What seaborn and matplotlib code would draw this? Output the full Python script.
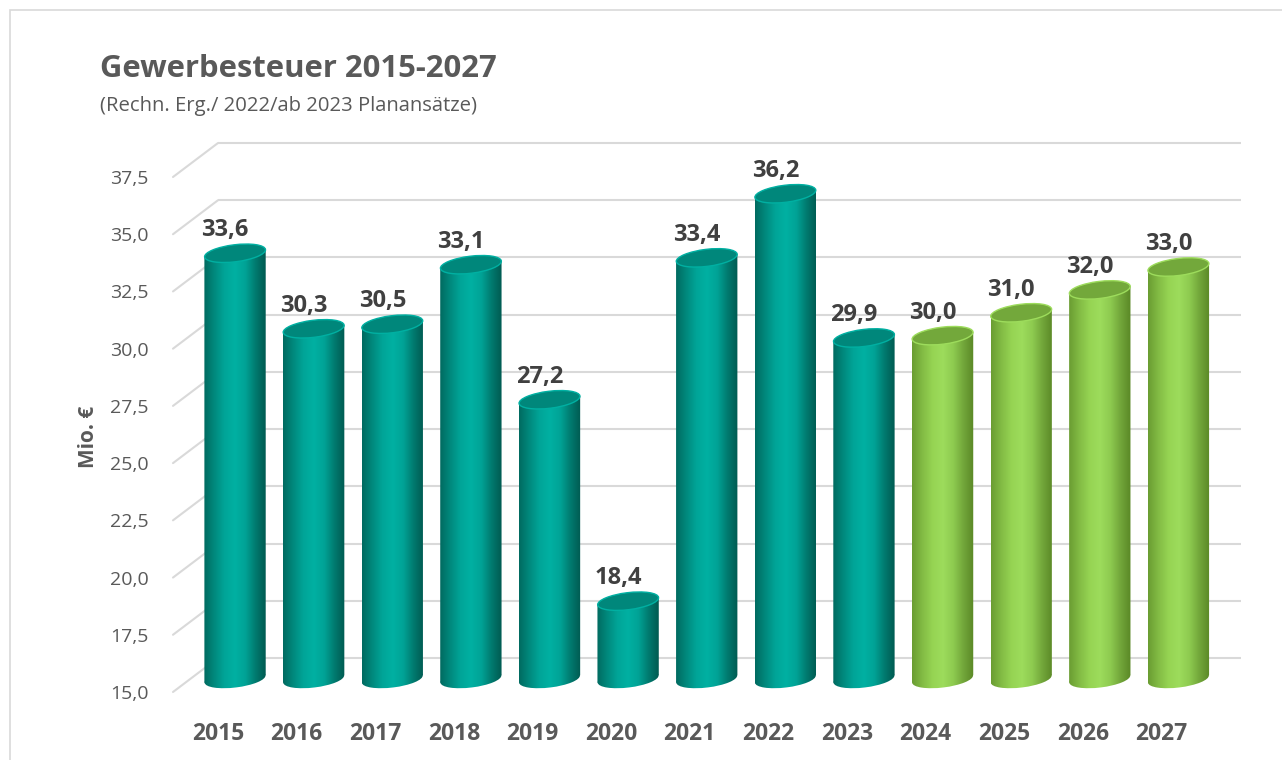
import numpy as np
import pandas as pd
import matplotlib
matplotlib.use("Agg")
import matplotlib.pyplot as plt
import seaborn as sns
from matplotlib.patches import Ellipse, Rectangle, Polygon
from matplotlib.transforms import ScaledTranslation
from matplotlib.colors import LinearSegmentedColormap

# ================= DATA =================
years = ["2015", "2016", "2017", "2018", "2019", "2020", "2021",
         "2022", "2023", "2024", "2025", "2026", "2027"]
values = [33.6, 30.3, 30.5, 33.1, 27.2, 18.4, 33.4, 36.2, 29.9, 30.0, 31.0, 32.0, 33.0]
kind = ["Ergebnis"] * 9 + ["Plan"] * 4
yticks = [15.0, 17.5, 20.0, 22.5, 25.0, 27.5, 30.0, 32.5, 35.0, 37.5]

df = pd.DataFrame({"Jahr": years, "Wert": values, "Art": kind})

# ================= STYLE =================
sns.set_theme(style="white")
plt.rcParams["font.family"] = ["Open Sans", "DejaVu Sans"]
GREY = "#595959"
DARK = "#404040"
GRID = "#d9d9d9"

palette = {"Ergebnis": "#00a99d", "Plan": "#92d050"}
cmaps = {
    "Ergebnis": LinearSegmentedColormap.from_list(
        "teal", ["#006a60", "#00897d", "#00a598", "#00b0a2", "#00a396", "#007a6f", "#005a51"]),
    "Plan": LinearSegmentedColormap.from_list(
        "green", ["#6a9c32", "#82bb44", "#96d453", "#9ddc5c", "#8ecb50", "#72a63a", "#5a8826"]),
}
tops = {"Ergebnis": "#00877b", "Plan": "#73a83b"}

# ================= FIGURE =================
DPI = 100
fig = plt.figure(figsize=(12.82, 7.60), dpi=DPI)

# bar plane (middle depth)
px_unit = 515 / 22.5
px_cat = 78.6
ymin = 14.4
bottom_px = 81 - (15 - ymin) * px_unit
height_px = (37.5 - ymin) * px_unit
ax = fig.add_axes([190 / 1282, bottom_px / 760, 1023 / 1282, height_px / 760])

sns.barplot(data=df, x="Jahr", y="Wert", hue="Art", palette=palette,
            dodge=False, width=0.78, legend=False, ax=ax)
x0, x1 = -0.573, 12.44
ax.set_xlim(x0, x1)
ax.set_ylim(ymin, 37.5)
for s in ax.spines.values():
    s.set_visible(False)
ax.set_xlabel("")
ax.set_ylabel("")

# back wall grid + connectors to front edge
back = ax.transData + ScaledTranslation(28 / DPI, 21 / DPI, fig.dpi_scale_trans)
front = ax.transData + ScaledTranslation(-17 / DPI, -13 / DPI, fig.dpi_scale_trans)
ax.hlines(yticks, x0, x1, colors=GRID, lw=1.5, transform=back, zorder=0, clip_on=False)
for yv in yticks:
    ax.annotate("", xy=(x0, yv), xycoords=back, xytext=(x0, yv), textcoords=front,
                arrowprops=dict(arrowstyle="-", color=GRID, lw=1.5,
                                shrinkA=0, shrinkB=0), zorder=0)

# cylinders (ellipses sized in inches, placed at data points)
ELL_H = 0.17
TILT = 7
grad = np.linspace(0, 1, 256).reshape(1, -1)
for bar, v, k in zip(ax.patches, values, kind):
    xl = bar.get_x()
    w = bar.get_width()
    xc = xl + w / 2
    w_in = w * px_cat / DPI
    dy = (w * px_cat / 2 * np.sin(np.radians(TILT))) / px_unit
    bar.set_y(15)
    bar.set_height(v - 15)
    bar.set_facecolor("none")
    bar.set_edgecolor("none")
    body = Polygon([(xl, 15 - dy), (xl, v - dy), (xl + w, v + dy), (xl + w, 15 + dy)],
                   closed=True, facecolor="none", edgecolor="none")
    ax.add_patch(body)
    im = ax.imshow(grad, cmap=cmaps[k], aspect="auto",
                   extent=[xl, xl + w, 14.4, v + 1], zorder=2)
    im.set_clip_path(body)
    bot = Ellipse((0, 0), w_in, ELL_H, angle=TILT, facecolor="none", edgecolor="none",
                  transform=fig.dpi_scale_trans + ScaledTranslation(xc, 15, ax.transData))
    ax.add_patch(bot)
    im2 = ax.imshow(grad, cmap=cmaps[k], aspect="auto",
                    extent=[xl, xl + w, 14.4, v], zorder=2)
    im2.set_clip_path(bot)
    ax.add_patch(Ellipse((0, 0), w_in, ELL_H, angle=TILT, facecolor=tops[k],
                         edgecolor=cmaps[k](0.5), lw=1.0, zorder=3,
                         transform=fig.dpi_scale_trans + ScaledTranslation(xc, v, ax.transData)))
    ax.annotate(f"{v:.1f}".replace(".", ","), xy=(xc, v), xytext=(-10, 17),
                textcoords="offset pixels", ha="center", va="baseline",
                fontsize=17, fontweight="bold", color=DARK, zorder=4)
ax.set_xlim(x0, x1)
ax.set_ylim(ymin, 37.5)

# ticks on the front edge
ax.set_yticks(yticks)
ax.set_yticklabels([f"{t:.1f}".replace(".", ",") for t in yticks])
ax.tick_params(axis="y", length=0, pad=30, labelsize=14, labelcolor=GREY)
ax.tick_params(axis="x", length=0, pad=21, labelsize=16.5, labelcolor=GREY)
for lab in ax.get_yticklabels():
    lab.set_transform(lab.get_transform() + ScaledTranslation(0, -13 / DPI, fig.dpi_scale_trans))
for lab in ax.get_xticklabels():
    lab.set_fontweight("bold")
    lab.set_transform(lab.get_transform() + ScaledTranslation(-17 / DPI, 0, fig.dpi_scale_trans))

fig.text(88 / 1282, 1 - 437 / 760, "Mio. €", rotation=90, ha="center", va="center",
         fontsize=15, fontweight="bold", color=GREY)

# titles
fig.text(100 / 1282, 1 - 77 / 760, "Gewerbesteuer 2015-2027", ha="left", va="baseline",
         fontsize=22.3, fontweight="bold", color=GREY)
fig.text(100 / 1282, 1 - 111 / 760, "(Rechn. Erg./ 2022/ab 2023 Planansätze)", ha="left",
         va="baseline", fontsize=14.6, color=GREY)

# outer frame
fig.patches.append(Rectangle((10 / 1282, -0.1), 1.2, 1.1 - 10 / 760, transform=fig.transFigure,
                             facecolor="none", edgecolor=GRID, lw=1.2, figure=fig))

fig.savefig("out.png", dpi=DPI)
